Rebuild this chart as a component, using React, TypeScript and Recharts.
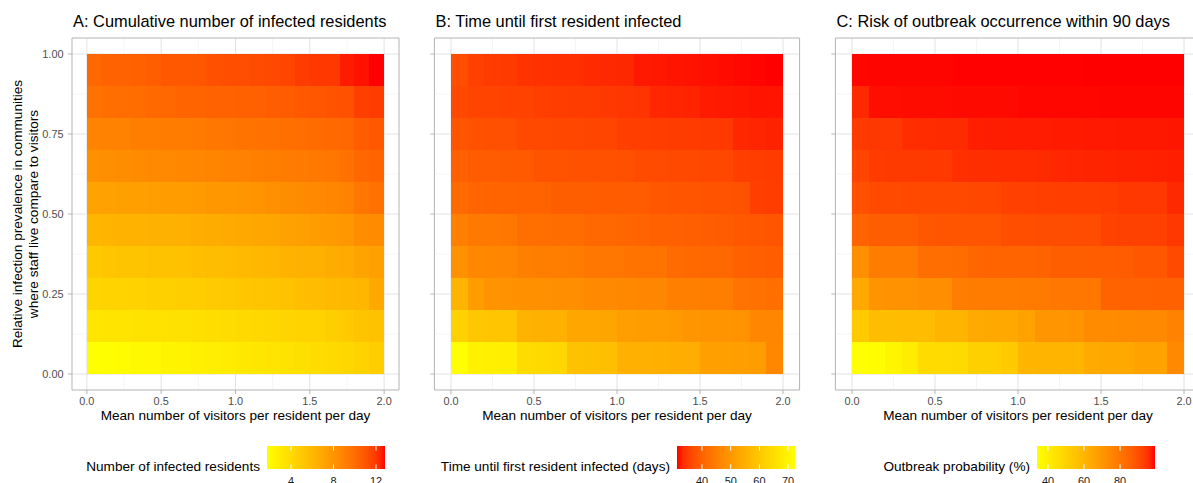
import React from 'react';
import {
  ScatterChart,
  Scatter,
  XAxis,
  YAxis,
  CartesianGrid,
  ReferenceArea,
  ReferenceLine,
} from 'recharts';

// Scenario grid: centres of the tiles
const VISITORS_PER_DAY = [
  0.05, 0.15, 0.25, 0.35, 0.45, 0.55, 0.65, 0.75, 0.85, 0.95,
  1.05, 1.15, 1.25, 1.35, 1.45, 1.55, 1.65, 1.75, 1.85, 1.95,
];
const RELATIVE_PREVALENCE = [0.05, 0.15, 0.25, 0.35, 0.45, 0.55, 0.65, 0.75, 0.85, 0.95];
const TILE_WIDTH = 0.1;
const TILE_HEIGHT = 0.1;

const X_BREAKS = [0, 0.5, 1, 1.5, 2];
const X_MINOR_BREAKS = [0.25, 0.75, 1.25, 1.75];
const Y_BREAKS = [0, 0.25, 0.5, 0.75, 1];
const Y_MINOR_BREAKS = [0.125, 0.375, 0.625, 0.875];

const INFECTED_BREAKS = [4, 8, 12];
const DAYS_BREAKS = [40, 50, 60, 70];
const RISK_BREAKS = [40, 60, 80];

// Cumulative number of infected residents; one row per prevalence level (0.05 → 0.95)
const INFECTED_RESIDENTS = [
  [1.74, 1.8, 1.9, 2.1, 2.2, 2.4, 2.5, 2.7, 2.8, 2.9, 3.1, 3.2, 3.4, 3.5, 3.7, 3.9, 4.0, 4.2, 4.5, 4.7],
  [3.3, 3.4, 3.4, 3.5, 3.5, 3.6, 3.6, 3.7, 3.8, 3.9, 4.0, 4.1, 4.2, 4.3, 4.4, 4.5, 4.7, 4.9, 5.3, 5.4],
  [4.3, 4.4, 4.5, 4.5, 4.6, 4.6, 4.7, 4.8, 4.9, 5.0, 5.1, 5.2, 5.3, 5.4, 5.6, 5.8, 5.9, 6.0, 6.1, 6.9],
  [5.0, 5.2, 5.3, 5.3, 5.4, 5.4, 5.5, 5.6, 5.7, 5.8, 5.9, 6.0, 6.1, 6.3, 6.4, 6.5, 6.7, 6.8, 7.2, 7.4],
  [6.1, 6.2, 6.3, 6.3, 6.4, 6.4, 6.5, 6.6, 6.7, 6.8, 6.9, 7.0, 7.1, 7.3, 7.4, 7.6, 7.7, 7.9, 8.4, 8.5],
  [7.2, 7.3, 7.4, 7.4, 7.5, 7.6, 7.6, 7.7, 7.8, 7.9, 8.0, 8.1, 8.2, 8.4, 8.5, 8.6, 8.8, 9.0, 9.6, 9.8],
  [8.2, 8.3, 8.4, 8.5, 8.6, 8.6, 8.7, 8.8, 8.9, 9.0, 9.0, 9.1, 9.2, 9.3, 9.4, 9.5, 9.6, 9.8, 10.3, 10.4],
  [8.9, 9.0, 9.0, 9.2, 9.2, 9.3, 9.3, 9.4, 9.6, 9.6, 9.7, 9.7, 9.8, 9.9, 10.0, 10.1, 10.2, 10.3, 10.7, 10.9],
  [9.8, 9.9, 10.0, 10.0, 10.2, 10.3, 10.4, 10.4, 10.5, 10.5, 10.6, 10.6, 10.7, 10.8, 10.9, 11.0, 11.1, 11.2, 11.8, 11.9],
  [10.3, 10.5, 10.5, 10.6, 10.7, 10.9, 10.9, 11.0, 11.2, 11.3, 11.3, 11.4, 11.5, 11.6, 11.9, 12.0, 12.0, 12.6, 12.7, 12.85],
];

// Time until first resident infected (days)
const DAYS_TO_FIRST_INFECTION = [
  [72.4, 69.2, 68.8, 68.5, 64.5, 64.0, 63.5, 58.8, 58.4, 58.0, 55.0, 54.8, 54.6, 54.5, 54.2, 51.6, 51.4, 51.2, 51.0, 46.5],
  [62.1, 59.8, 59.6, 59.4, 55.4, 55.0, 54.8, 52.9, 52.7, 52.5, 51.2, 51.0, 50.8, 50.6, 49.3, 49.1, 48.9, 48.7, 46.6, 46.3],
  [56.0, 51.0, 49.0, 48.8, 48.6, 48.4, 48.2, 48.0, 47.2, 47.0, 46.8, 46.6, 46.4, 45.2, 45.0, 44.8, 44.6, 42.8, 42.5, 42.2],
  [48.5, 46.8, 46.5, 46.3, 45.1, 44.9, 44.7, 44.5, 43.6, 43.4, 43.2, 43.0, 42.8, 41.4, 41.2, 41.0, 40.8, 39.8, 39.5, 39.2],
  [45.3, 43.9, 43.8, 43.6, 42.2, 42.0, 41.8, 41.6, 41.0, 40.8, 40.6, 40.4, 39.9, 39.7, 39.5, 39.3, 39.1, 38.5, 38.3, 38.1],
  [41.5, 40.5, 40.4, 40.3, 40.2, 40.1, 39.4, 39.3, 39.2, 39.1, 39.0, 38.9, 38.2, 38.0, 37.9, 37.8, 37.7, 37.6, 35.2, 35.0],
  [39.7, 39.0, 38.9, 38.8, 38.7, 37.8, 37.7, 37.6, 37.5, 37.4, 37.3, 36.6, 36.5, 36.4, 36.3, 36.2, 36.1, 35.2, 35.0, 34.8],
  [38.1, 37.4, 37.3, 37.2, 36.4, 36.3, 36.2, 36.1, 36.0, 35.9, 35.2, 35.1, 35.0, 34.9, 34.8, 34.7, 34.6, 33.0, 32.8, 32.6],
  [36.4, 35.8, 35.7, 35.6, 35.5, 35.1, 35.0, 34.9, 34.8, 34.3, 34.2, 34.1, 32.9, 32.8, 32.7, 32.2, 32.1, 32.0, 31.9, 31.9],
  [37.0, 35.3, 34.8, 34.7, 33.9, 33.8, 33.7, 33.6, 33.2, 33.1, 33.0, 32.1, 32.0, 31.9, 31.8, 31.7, 31.6, 31.5, 31.4, 31.3],
];

// Probability (%) of an outbreak within 90 days
const OUTBREAK_PROBABILITY = [
  [33.9, 34.6, 37.5, 40.5, 46.8, 47.0, 47.2, 50.8, 51.0, 52.9, 59.8, 60.0, 60.2, 60.4, 63.8, 64.0, 64.2, 66.4, 66.6, 74.5],
  [52.9, 57.4, 57.5, 57.6, 57.7, 60.0, 60.2, 63.8, 64.0, 64.2, 66.6, 70.6, 70.8, 71.0, 73.8, 74.0, 74.2, 74.4, 74.6, 76.5],
  [64.0, 71.4, 71.6, 71.8, 72.8, 73.0, 78.2, 78.3, 78.4, 78.5, 78.6, 78.7, 79.8, 80.0, 80.2, 85.4, 85.5, 85.6, 85.7, 85.8],
  [73.0, 78.3, 78.4, 78.5, 82.3, 82.4, 82.5, 84.8, 84.9, 85.0, 85.1, 85.2, 86.5, 86.6, 86.7, 86.8, 86.9, 88.1, 88.3, 91.0],
  [85.0, 86.5, 86.6, 86.7, 88.5, 88.6, 88.7, 88.8, 88.9, 90.2, 90.3, 90.4, 90.5, 90.6, 90.7, 92.7, 92.8, 92.9, 93.0, 94.5],
  [89.5, 91.0, 91.1, 91.2, 91.3, 91.4, 91.5, 91.6, 91.7, 92.9, 93.0, 93.1, 93.2, 93.3, 93.4, 93.5, 94.4, 94.5, 94.6, 96.5],
  [92.0, 93.9, 94.0, 94.1, 94.2, 94.3, 95.7, 95.8, 95.9, 96.0, 96.1, 96.2, 96.9, 97.0, 97.1, 97.2, 97.3, 97.4, 97.5, 97.6],
  [94.0, 94.5, 94.6, 96.0, 96.1, 96.2, 96.3, 97.7, 97.8, 97.8, 97.9, 97.9, 98.0, 98.0, 98.1, 98.1, 98.2, 98.2, 98.2, 98.3],
  [96.5, 98.8, 98.8, 98.9, 98.9, 98.9, 99.0, 99.0, 99.0, 99.0, 99.1, 99.1, 99.1, 99.1, 99.1, 99.2, 99.2, 99.2, 99.2, 99.2],
  [99.1, 99.2, 99.2, 99.2, 99.2, 99.2, 99.3, 99.3, 99.3, 99.3, 99.3, 99.3, 99.3, 99.3, 99.4, 99.4, 99.4, 99.4, 99.4, 99.4],
];

// ---- colour gradients interpolated in CIELAB (yellow ↔ red) ----
type RGB = [number, number, number];
const YELLOW: RGB = [255, 255, 0];
const RED: RGB = [255, 0, 0];
const WHITE_POINT = [0.95047, 1.0, 1.08883];
const EPS = 216 / 24389;
const KAPPA = 24389 / 27;

const toLinear = (c: number) => {
  const v = c / 255;
  return v <= 0.04045 ? v / 12.92 : Math.pow((v + 0.055) / 1.055, 2.4);
};
const fromLinear = (c: number) => {
  const v = c <= 0.0031308 ? 12.92 * c : 1.055 * Math.pow(Math.max(c, 0), 1 / 2.4) - 0.055;
  return Math.round(Math.min(1, Math.max(0, v)) * 255);
};

function rgbToLab(rgb: RGB): RGB {
  const [r, g, b] = rgb.map(toLinear);
  const x = (0.4124564 * r + 0.3575761 * g + 0.1804375 * b) / WHITE_POINT[0];
  const y = (0.2126729 * r + 0.7151522 * g + 0.072175 * b) / WHITE_POINT[1];
  const z = (0.0193339 * r + 0.119192 * g + 0.9503041 * b) / WHITE_POINT[2];
  const f = (t: number) => (t > EPS ? Math.cbrt(t) : (KAPPA * t + 16) / 116);
  const fx = f(x);
  const fy = f(y);
  const fz = f(z);
  return [116 * fy - 16, 500 * (fx - fy), 200 * (fy - fz)];
}

function labToHex([L, a, bb]: RGB): string {
  const fy = (L + 16) / 116;
  const fx = fy + a / 500;
  const fz = fy - bb / 200;
  const inv = (t: number) => (t * t * t > EPS ? t * t * t : (116 * t - 16) / KAPPA);
  const x = inv(fx) * WHITE_POINT[0];
  const y = inv(fy) * WHITE_POINT[1];
  const z = inv(fz) * WHITE_POINT[2];
  const r = 3.2404542 * x - 1.5371385 * y - 0.4985314 * z;
  const g = -0.969266 * x + 1.8760108 * y + 0.041556 * z;
  const b = 0.0556434 * x - 0.2040259 * y + 1.0572252 * z;
  const hex = (n: number) => fromLinear(n).toString(16).padStart(2, '0');
  return `#${hex(r)}${hex(g)}${hex(b)}`;
}

function labMix(low: RGB, high: RGB, t: number): string {
  const a = rgbToLab(low);
  const b = rgbToLab(high);
  const k = Math.min(1, Math.max(0, t));
  return labToHex([a[0] + (b[0] - a[0]) * k, a[1] + (b[1] - a[1]) * k, a[2] + (b[2] - a[2]) * k]);
}

const limitsOf = (rows: number[][]): [number, number] => {
  const flat = rows.flat();
  return [Math.min(...flat), Math.max(...flat)];
};

const makeScale = (limits: [number, number], low: RGB, high: RGB) => (v: number) =>
  labMix(low, high, (v - limits[0]) / (limits[1] - limits[0]));

// tile centres as scatter records, so both axes are fed by data
const toRecords = (rows: number[][]) =>
  RELATIVE_PREVALENCE.flatMap((prev, r) =>
    VISITORS_PER_DAY.map((vis, c) => ({ x: vis, y: prev, value: rows[r][c] }))
  );

const NoMarker = () => <g />;

// ---- layout ----
const CHART_HEIGHT = 440;
const X_DOMAIN: [number, number] = [-0.1, 2.1];
const Y_DOMAIN: [number, number] = [-0.05, 1.05];
const FONT = '"Liberation Sans", Arial, Helvetica, sans-serif';
const TICK_GREY = '#4d4d4d';
const LINE_GREY = '#b3b3b3';

interface PanelProps {
  id: string;
  left: number;
  marginLeft: number;
  marginRight: number;
  yAxisWidth: number;
  showYLabels: boolean;
  values: number[][];
  colour: (v: number) => string;
}

function HeatPanel({ id, left, marginLeft, marginRight, yAxisWidth, showYLabels, values, colour }: PanelProps) {
  const records = toRecords(values);
  const tiles = records.map((d, i) => (
    <ReferenceArea
      key={`${id}-${i}`}
      x1={d.x - TILE_WIDTH / 2}
      x2={d.x + TILE_WIDTH / 2}
      y1={d.y - TILE_HEIGHT / 2}
      y2={d.y + TILE_HEIGHT / 2}
      fill={colour(d.value)}
      fillOpacity={1}
      stroke="none"
      shapeRendering="crispEdges"
      ifOverflow="visible"
    />
  ));

  return (
    <div style={{ position: 'absolute', left, top: 0 }}>
      <ScatterChart
        width={410}
        height={CHART_HEIGHT}
        margin={{ top: 38, right: marginRight, bottom: 24, left: marginLeft }}
      >
        <CartesianGrid
          verticalValues={X_MINOR_BREAKS}
          horizontalValues={Y_MINOR_BREAKS}
          stroke="#efefef"
          strokeWidth={0.6}
          fill="none"
        />
        <CartesianGrid
          verticalValues={X_BREAKS}
          horizontalValues={Y_BREAKS}
          stroke="#e2e2e2"
          strokeWidth={1}
          fill="none"
        />
        <XAxis
          type="number"
          dataKey="x"
          domain={X_DOMAIN}
          ticks={X_BREAKS}
          allowDataOverflow
          interval={0}
          height={26}
          axisLine={false}
          tickSize={4}
          tickMargin={3}
          tickLine={{ stroke: LINE_GREY }}
          tick={{ fill: TICK_GREY, fontSize: 10.9 }}
          tickFormatter={(v: number) => v.toFixed(1)}
        />
        <YAxis
          type="number"
          dataKey="y"
          domain={Y_DOMAIN}
          ticks={Y_BREAKS}
          allowDataOverflow
          interval={0}
          width={yAxisWidth}
          axisLine={false}
          tickSize={4}
          tickMargin={4.5}
          tickLine={{ stroke: LINE_GREY }}
          tick={{ fill: TICK_GREY, fontSize: 10.9 }}
          tickFormatter={(v: number) => (showYLabels ? v.toFixed(2) : '')}
        />
        <Scatter data={records} shape={NoMarker} isAnimationActive={false} />
        {tiles}
        <ReferenceArea
          x1={X_DOMAIN[0]}
          x2={X_DOMAIN[1]}
          y1={Y_DOMAIN[0]}
          y2={Y_DOMAIN[1]}
          fill="none"
          fillOpacity={0}
          stroke={LINE_GREY}
          strokeWidth={1}
          ifOverflow="visible"
        />
      </ScatterChart>
    </div>
  );
}

interface BarProps {
  id: string;
  left: number;
  limits: [number, number];
  breaks: number[];
  low: RGB;
  high: RGB;
}

const GRADIENT_STOPS = [0, 0.05, 0.1, 0.15, 0.2, 0.25, 0.3, 0.35, 0.4, 0.45, 0.5, 0.55, 0.6, 0.65, 0.7, 0.75, 0.8, 0.85, 0.9, 0.95, 1];

function ColourBar({ id, left, limits, breaks, low, high }: BarProps) {
  const anchors = breaks.map((b) => ({ x: b, y: 0.5 }));
  return (
    <div style={{ position: 'absolute', left, top: 446 }}>
      <ScatterChart width={118} height={60} margin={{ top: 0, right: 0, bottom: 0, left: 0 }}>
        <defs>
          <linearGradient id={id} x1="0" y1="0" x2="1" y2="0">
            {GRADIENT_STOPS.map((s) => (
              <stop key={s} offset={s} stopColor={labMix(low, high, s)} />
            ))}
          </linearGradient>
        </defs>
        <XAxis
          type="number"
          dataKey="x"
          domain={limits}
          ticks={breaks}
          allowDataOverflow
          interval={0}
          height={37}
          axisLine={false}
          tickLine={false}
          tickSize={0}
          tickMargin={8}
          tick={{ fill: '#1a1a1a', fontSize: 10.9 }}
        />
        <YAxis type="number" dataKey="y" domain={[0, 1]} allowDataOverflow hide />
        <Scatter data={anchors} shape={NoMarker} isAnimationActive={false} />
        <ReferenceArea
          x1={limits[0]}
          x2={limits[1]}
          y1={0}
          y2={1}
          fill={`url(#${id})`}
          fillOpacity={1}
          ifOverflow="visible"
        />
        {breaks.map((b) => (
          <ReferenceLine
            key={`lo-${b}`}
            segment={[{ x: b, y: 0 }, { x: b, y: 0.2 }]}
            stroke="#ffffff"
            strokeWidth={1}
          />
        ))}
        {breaks.map((b) => (
          <ReferenceLine
            key={`hi-${b}`}
            segment={[{ x: b, y: 0.8 }, { x: b, y: 1 }]}
            stroke="#ffffff"
            strokeWidth={1}
          />
        ))}
      </ScatterChart>
    </div>
  );
}

const INFECTED_LIMITS = limitsOf(INFECTED_RESIDENTS);
const DAYS_LIMITS = limitsOf(DAYS_TO_FIRST_INFECTION);
const RISK_LIMITS = limitsOf(OUTBREAK_PROBABILITY);

export default function App() {
  return (
    <div
      style={{
        position: 'absolute',
        left: 0,
        top: 0,
        width: 1193,
        height: 483,
        overflow: 'hidden',
        background: '#ffffff',
        fontFamily: FONT,
      }}
    >
      <HeatPanel
        id="a"
        left={0}
        marginLeft={42}
        marginRight={11}
        yAxisWidth={30}
        showYLabels
        values={INFECTED_RESIDENTS}
        colour={makeScale(INFECTED_LIMITS, YELLOW, RED)}
      />
      <HeatPanel
        id="b"
        left={400}
        marginLeft={24.4}
        marginRight={10.4}
        yAxisWidth={10}
        showYLabels={false}
        values={DAYS_TO_FIRST_INFECTION}
        colour={makeScale(DAYS_LIMITS, RED, YELLOW)}
      />
      <HeatPanel
        id="c"
        left={800}
        marginLeft={25.4}
        marginRight={9.4}
        yAxisWidth={10}
        showYLabels={false}
        values={OUTBREAK_PROBABILITY}
        colour={makeScale(RISK_LIMITS, YELLOW, RED)}
      />

      <ColourBar id="barA" left={267} limits={INFECTED_LIMITS} breaks={INFECTED_BREAKS} low={YELLOW} high={RED} />
      <ColourBar id="barB" left={677} limits={DAYS_LIMITS} breaks={DAYS_BREAKS} low={RED} high={YELLOW} />
      <ColourBar id="barC" left={1037} limits={RISK_LIMITS} breaks={RISK_BREAKS} low={YELLOW} high={RED} />

      <svg
        width={1193}
        height={483}
        style={{ position: 'absolute', left: 0, top: 0, pointerEvents: 'none' }}
        fontFamily={FONT}
      >
        <g fill="#000000" fontSize={16.4}>
          <text x={73} y={27}>A: Cumulative number of infected residents</text>
          <text x={435.5} y={27}>B: Time until first resident infected</text>
          <text x={836.5} y={27}>C: Risk of outbreak occurrence within 90 days</text>
        </g>
        <g fill="#000000" fontSize={13.6} textAnchor="middle">
          <text x={235.5} y={420}>Mean number of visitors per resident per day</text>
          <text x={617} y={420}>Mean number of visitors per resident per day</text>
          <text x={1018} y={420}>Mean number of visitors per resident per day</text>
          <text x={22} y={214} transform="rotate(-90, 22, 214)">
            Relative infection prevalence in communities
          </text>
          <text x={37.5} y={214} transform="rotate(-90, 37.5, 214)">
            where staff live compare to visitors
          </text>
        </g>
        <g fill="#000000" fontSize={13.6} textAnchor="end">
          <text x={260} y={471}>Number of infected residents</text>
          <text x={670} y={471}>Time until first resident infected (days)</text>
          <text x={1030} y={471}>Outbreak probability (%)</text>
        </g>
      </svg>
    </div>
  );
}
